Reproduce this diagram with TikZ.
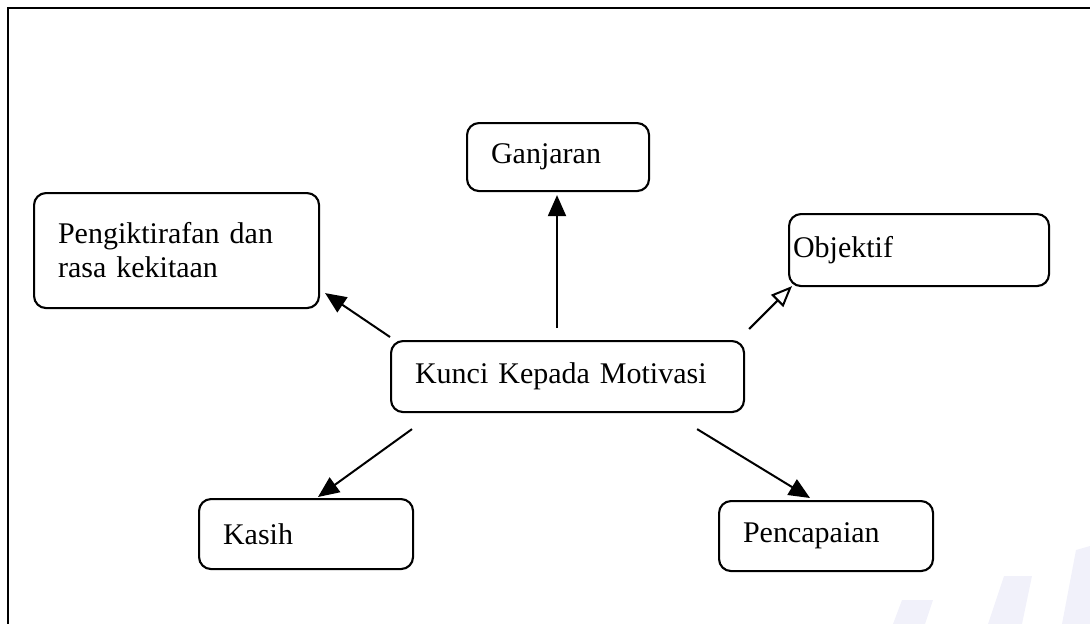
\documentclass[tikz,border=0pt]{standalone}
\usepackage{fontspec}
\setmainfont{Liberation Serif}
\usetikzlibrary{arrows.meta}
\definecolor{wmark}{RGB}{241,241,250}
\tikzset{
  keybox/.style={draw, line width=2.1pt, rounded corners=12pt, anchor=north west,
    inner ysep=0pt, inner xsep=24pt, align=left,
    font=\fontsize{30}{34}\selectfont},
  arr/.style={line width=2pt, -{Triangle[length=21pt,width=18pt]}},
  openarr/.style={line width=2pt, -{Triangle[open,length=21pt,width=17pt,line width=2pt]}},
  frameline/.style={line width=2.2pt}
}
\begin{document}
\begin{tikzpicture}[x=1pt,y=-1pt]
\useasboundingbox (0,0) rectangle (1090,624);

% faint watermark strokes in the lower right
\fill[wmark] (893,624) -- (925,624) -- (933,600) -- (902,600) -- cycle;
\fill[wmark] (988,624) -- (1022,624) -- (1032,576) -- (1004,576) -- cycle;
\fill[wmark] (1062,624) -- (1090,624) -- (1090,546) -- (1076,550) -- cycle;

% page frame
\draw[frameline] (8,624) -- (8,8) -- (1090,8);

% boxes
\node[keybox, text width=237pt, minimum height=115pt] (peng) at (33,192)
  {Pengiktirafan dan\\rasa kekitaan};
\node[keybox, text width=134pt, minimum height=68pt] (ganj) at (466,122) {Ganjaran};
\node[keybox, inner xsep=4pt, text width=252pt, minimum height=72pt] (obj) at (788,213)
  {Objektif\\[8pt]};
\node[keybox, text width=305pt, minimum height=71pt] (kunci) at (390,340) {Kunci Kepada Motivasi};
\node[keybox, text width=166pt, minimum height=70pt] (kasih) at (198,498) {Kasih};
\node[keybox, text width=166pt, minimum height=70pt] (penc) at (718,500) {Pencapaian};

% connectors from the central box
\draw[arr] ([shift={(167,-12)}]kunci.north west) -- ([shift={(91,3)}]ganj.south west);
\draw[arr] ([shift={(0,-3)}]kunci.north west) -- ([shift={(5,-16)}]peng.south east);
\draw[openarr] ([shift={(4,-11)}]kunci.north east) -- ([shift={(4,-1)}]obj.south west);
\draw[arr] ([shift={(22,16)}]kunci.south west) -- ([shift={(120,-1)}]kasih.north west);
\draw[arr] ([shift={(-48,16)}]kunci.south east) -- ([shift={(92,-2)}]penc.north west);
\end{tikzpicture}
\end{document}
